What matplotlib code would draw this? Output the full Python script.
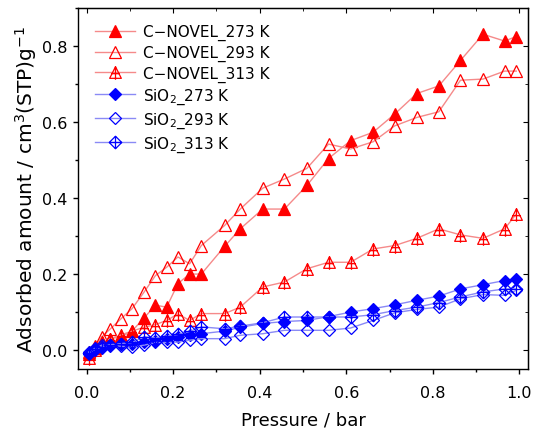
import matplotlib
matplotlib.use("Agg")
import matplotlib.pyplot as plt
from matplotlib.path import Path
from matplotlib.ticker import MultipleLocator, FormatStrFormatter

plt.rcParams['font.family'] = ['DejaVu Sans']
plt.rcParams['mathtext.fontset'] = 'dejavusans'

pressure = [0.005, 0.02, 0.035, 0.055, 0.08, 0.105, 0.133, 0.159, 0.185, 0.211, 0.238,
            0.265, 0.319, 0.355, 0.407, 0.457, 0.509, 0.559, 0.610, 0.662, 0.712, 0.763,
            0.814, 0.864, 0.916, 0.966, 0.993]

cn_273 = [-0.01, 0.005, 0.02, 0.03, 0.035, 0.05, 0.085, 0.118, 0.113, 0.175, 0.2, 0.2,
          0.273, 0.319, 0.371, 0.371, 0.433, 0.504, 0.551, 0.573, 0.621, 0.675, 0.695,
          0.762, 0.831, 0.813, 0.825]
cn_293 = [-0.005, 0.01, 0.035, 0.056, 0.083, 0.109, 0.153, 0.196, 0.218, 0.245, 0.227,
          0.275, 0.328, 0.371, 0.426, 0.450, 0.478, 0.542, 0.529, 0.548, 0.590, 0.612,
          0.627, 0.710, 0.713, 0.734, 0.734]
cn_313 = [-0.02, 0.0, 0.02, 0.03, 0.04, 0.05, 0.06, 0.067, 0.078, 0.095, 0.078, 0.096,
          0.096, 0.113, 0.166, 0.179, 0.214, 0.231, 0.231, 0.266, 0.275, 0.294, 0.319,
          0.303, 0.294, 0.319, 0.358]
si_273 = [-0.01, 0.0, 0.005, 0.01, 0.015, 0.017, 0.02, 0.025, 0.03, 0.035, 0.04, 0.043,
          0.05, 0.06, 0.07, 0.075, 0.078, 0.088, 0.10, 0.109, 0.119, 0.131, 0.142, 0.161,
          0.172, 0.183, 0.188]
si_293 = [-0.005, 0.005, 0.013, 0.013, 0.01, 0.008, 0.013, 0.02, 0.02, 0.021, 0.026, 0.030,
          0.030, 0.039, 0.043, 0.052, 0.052, 0.052, 0.058, 0.078, 0.098, 0.107, 0.113,
          0.135, 0.146, 0.144, 0.157]
si_313 = [-0.007, 0.002, 0.008, 0.014, 0.017, 0.02, 0.035, 0.032, 0.037, 0.041, 0.049,
          0.061, 0.056, 0.063, 0.072, 0.087, 0.087, 0.087, 0.087, 0.093, 0.104, 0.113,
          0.125, 0.140, 0.153, 0.161, 0.161]

labels = ['C\u2212NOVEL_273 K', 'C\u2212NOVEL_293 K', 'C\u2212NOVEL_313 K',
          'SiO$_2$_273 K', 'SiO$_2$_293 K', 'SiO$_2$_313 K']

# custom markers: triangle with plus, diamond with plus
tri_plus = Path([(0, 1), (-1, -1), (1, -1), (0, 1),
                 (0, 1), (0, -1.25),
                 (-0.7, -0.2), (0.7, -0.2)],
                [Path.MOVETO, Path.LINETO, Path.LINETO, Path.CLOSEPOLY,
                 Path.MOVETO, Path.LINETO, Path.MOVETO, Path.LINETO])
dia_plus = Path([(0, 1), (1, 0), (0, -1), (-1, 0), (0, 1),
                 (0, 1), (0, -1), (-1, 0), (1, 0)],
                [Path.MOVETO, Path.LINETO, Path.LINETO, Path.LINETO, Path.CLOSEPOLY,
                 Path.MOVETO, Path.LINETO, Path.MOVETO, Path.LINETO])

red = '#ff0000'
blue = '#0000ff'
red_line = '#f58a8a'
blue_line = '#8a8af5'

fig = plt.figure(figsize=(5.33, 4.39), dpi=100)
ax = fig.add_axes([0.1463, 0.157, 0.8443, 0.8225])

series = [
    (cn_273, '^', red, red_line, red, 8.5),
    (cn_293, '^', red, red_line, 'none', 8.5),
    (cn_313, tri_plus, red, red_line, 'none', 10.5),
    (si_273, 'D', blue, blue_line, blue, 6.4),
    (si_293, 'D', blue, blue_line, 'none', 6.4),
    (si_313, dia_plus, blue, blue_line, 'none', 9.0),
]

for (vals, mk, ec, lc, fc, ms), lab in zip(series, labels):
    ax.plot(pressure, vals, color=lc, lw=1.0, marker=mk, markersize=ms,
            markeredgecolor=ec, markerfacecolor=fc, markeredgewidth=0.9, label=lab)

ax.set_xlim(-0.02, 1.02)
ax.set_ylim(-0.05, 0.9)
ax.xaxis.set_major_locator(MultipleLocator(0.2))
ax.xaxis.set_minor_locator(MultipleLocator(0.1))
ax.yaxis.set_major_locator(MultipleLocator(0.2))
ax.yaxis.set_minor_locator(MultipleLocator(0.1))
ax.xaxis.set_major_formatter(FormatStrFormatter('%.1f'))
ax.yaxis.set_major_formatter(FormatStrFormatter('%.1f'))

ax.tick_params(which='both', direction='out', top=False, right=False,
               labelsize=11.5, width=1.0, colors='black')
ax.tick_params(which='major', length=3.8)
ax.tick_params(which='minor', length=2.4)
ax.tick_params(axis='x', which='major', pad=7.5)
ax.tick_params(axis='y', which='major', pad=3.8)
# mirrored inward ticks on top and right
axt = ax.secondary_xaxis('top')
axt.xaxis.set_major_locator(MultipleLocator(0.2))
axt.xaxis.set_minor_locator(MultipleLocator(0.1))
axt.tick_params(which='both', direction='in', labeltop=False)
axt.tick_params(which='major', length=3.8)
axt.tick_params(which='minor', length=2.4)
axr = ax.secondary_yaxis('right')
axr.yaxis.set_major_locator(MultipleLocator(0.2))
axr.yaxis.set_minor_locator(MultipleLocator(0.1))
axr.tick_params(which='both', direction='in', labelright=False)
axr.tick_params(which='major', length=3.8)
axr.tick_params(which='minor', length=2.4)

for sp in ax.spines.values():
    sp.set_linewidth(1.0)

ax.set_xlabel('Pressure / bar', fontsize=13, labelpad=8)
ax.set_ylabel('Adsorbed amount / cm$^3$(STP)g$^{-1}$', fontsize=14.5, labelpad=2)

leg = ax.legend(loc='upper left', frameon=False, fontsize=11, handlelength=2.6,
                handletextpad=0.5, labelspacing=0.3, borderaxespad=0.0,
                bbox_to_anchor=(0.025, 0.972))

fig.savefig('out.png', dpi=100)
